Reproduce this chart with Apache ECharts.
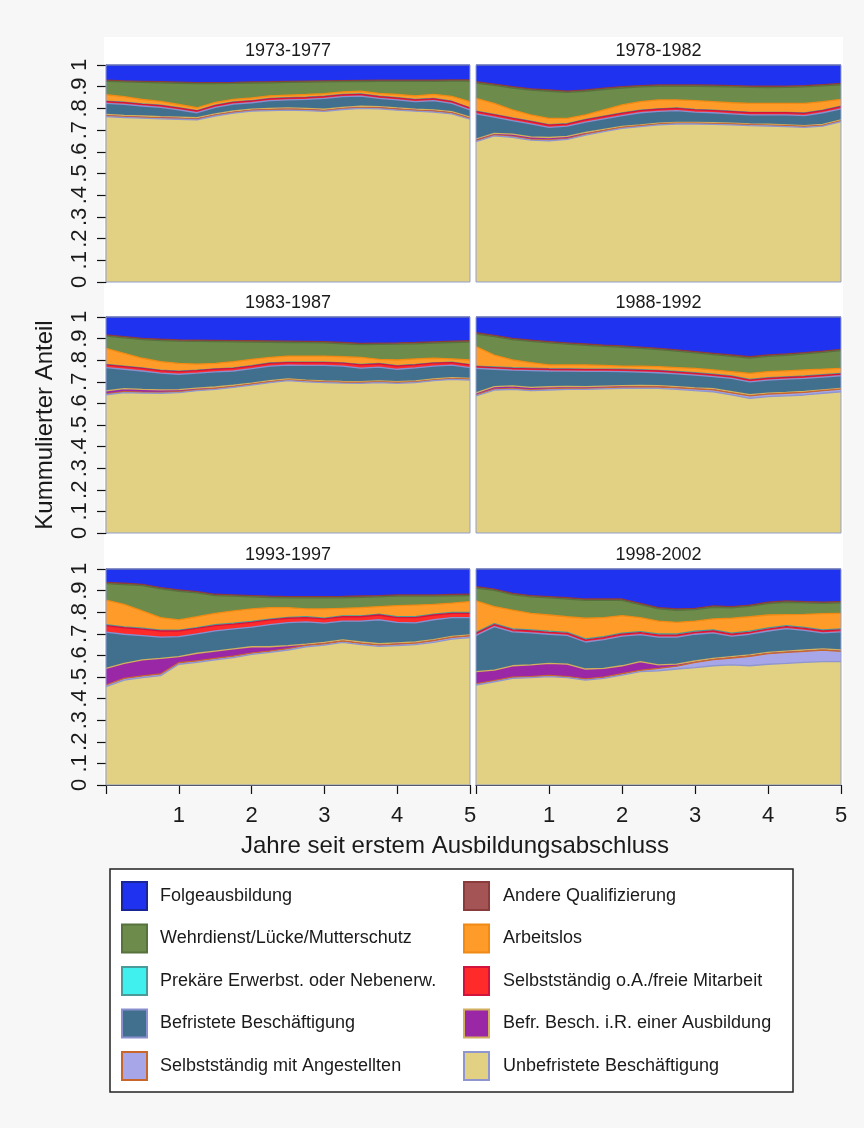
<!DOCTYPE html>
<html>
<head>
<meta charset="utf-8">
<script src="https://cdn.jsdelivr.net/npm/echarts@6/dist/echarts.min.js"></script>
<style>
  html, body { margin: 0; padding: 0; background: #f7f7f7; }
  #chart { width: 864px; height: 1128px; }
</style>
</head>
<body>
<div id="chart"></div>
<script>
// Years since first completed training (quarterly)
const years = [0, 0.25, 0.5, 0.75, 1, 1.25, 1.5, 1.75, 2, 2.25, 2.5, 2.75, 3, 3.25, 3.5, 3.75, 4, 4.25, 4.5, 4.75, 5];
const xTicks = [0, 1, 2, 3, 4, 5];
const cohorts = ['1973-1977', '1978-1982', '1983-1987', '1988-1992', '1993-1997', '1998-2002'];

// States, from the top of the stack down
const states = [
  'Folgeausbildung', 'Andere Qualifizierung',
  'Wehrdienst/Lücke/Mutterschutz', 'Arbeitslos',
  'Prekäre Erwerbst. oder Nebenerw.', 'Selbstständig o.A./freie Mitarbeit',
  'Befristete Beschäftigung', 'Befr. Besch. i.R. einer Ausbildung',
  'Selbstständig mit Angestellten', 'Unbefristete Beschäftigung'
];
const fillColors = ['#1f32f0', '#a45454', '#6d8b4b', '#ff9b28', '#40f0ee', '#ff2b2b', '#40708e', '#9a28a6', '#a6a6e8', '#e2d182'];
const lineColors = ['#1b2696', '#8a3c3c', '#57723c', '#f08a14', '#4a9a9a', '#d2143c', '#8a8fd0', '#d2b05e', '#c8662c', '#8f95cf'];

// Cumulative share: all states taken together
const total = [1, 1, 1, 1, 1, 1, 1, 1, 1, 1, 1, 1, 1, 1, 1, 1, 1, 1, 1, 1, 1];

// Cumulative shares (from the bottom of the stack up to and including each state), 1973-1977
const andere7377     = [.930,.927,.925,.923,.921,.919,.919,.920,.922,.923,.925,.926,.927,.928,.929,.930,.930,.930,.930,.931,.931];
const wehrdienst7377 = [.925,.922,.920,.918,.916,.914,.914,.915,.917,.918,.920,.921,.922,.923,.924,.925,.925,.925,.925,.926,.926];
const arbeitslos7377 = [.863,.854,.841,.832,.818,.803,.828,.842,.848,.858,.861,.864,.868,.876,.879,.869,.864,.858,.865,.855,.831];
const prekaer7377    = [.833,.829,.821,.815,.803,.790,.815,.830,.836,.846,.849,.852,.856,.864,.867,.856,.849,.841,.846,.833,.803];
const selbstOA7377   = [.831,.827,.819,.813,.801,.788,.813,.828,.834,.844,.847,.850,.854,.862,.865,.854,.847,.839,.844,.831,.801];
const befrist7377    = [.823,.819,.811,.805,.793,.780,.805,.820,.826,.836,.839,.842,.846,.854,.857,.846,.839,.831,.836,.823,.793];
const befrAusb7377   = [.772,.768,.765,.762,.760,.757,.775,.788,.797,.800,.802,.800,.796,.805,.810,.808,.802,.797,.793,.785,.760];
const selbstAng7377  = [.766,.762,.759,.756,.754,.751,.769,.782,.791,.794,.796,.794,.790,.799,.804,.802,.796,.791,.787,.779,.754];
const unbef7377      = [.762,.758,.755,.752,.750,.747,.765,.778,.787,.790,.792,.790,.786,.795,.800,.798,.792,.787,.783,.775,.750];

// 1978-1982
const andere7882     = [.923,.912,.900,.890,.885,.880,.885,.893,.900,.905,.908,.908,.908,.907,.905,.903,.902,.903,.905,.910,.915];
const wehrdienst7882 = [.917,.906,.894,.884,.879,.874,.879,.887,.894,.899,.902,.902,.902,.901,.899,.897,.896,.897,.899,.904,.909];
const arbeitslos7882 = [.846,.823,.793,.770,.754,.754,.770,.793,.816,.831,.839,.839,.836,.831,.826,.823,.823,.823,.823,.831,.842];
const prekaer7882    = [.787,.772,.756,.741,.725,.730,.749,.764,.779,.792,.798,.802,.795,.792,.787,.782,.782,.782,.779,.792,.810];
const selbstOA7882   = [.785,.770,.754,.739,.723,.728,.747,.762,.777,.790,.796,.800,.793,.790,.785,.780,.780,.780,.777,.790,.808];
const befrist7882    = [.775,.760,.744,.729,.713,.718,.737,.752,.767,.780,.786,.790,.783,.780,.775,.770,.770,.770,.767,.780,.798];
const befrAusb7882   = [.659,.685,.681,.669,.666,.671,.689,.703,.717,.724,.732,.736,.736,.734,.732,.729,.727,.724,.721,.726,.747];
const selbstAng7882  = [.651,.677,.671,.658,.655,.661,.681,.697,.712,.720,.728,.732,.732,.730,.728,.725,.723,.720,.717,.722,.743];
const unbef7882      = [.647,.673,.667,.654,.651,.657,.677,.693,.708,.716,.724,.728,.728,.726,.724,.721,.719,.716,.713,.718,.739];

// 1983-1987
const andere8387     = [.917,.909,.901,.897,.894,.893,.892,.891,.890,.889,.888,.887,.886,.882,.878,.879,.880,.882,.885,.888,.890];
const wehrdienst8387 = [.911,.903,.895,.891,.888,.887,.886,.885,.884,.883,.882,.881,.880,.876,.872,.873,.874,.876,.879,.882,.884];
const arbeitslos8387 = [.855,.832,.809,.793,.785,.782,.785,.793,.804,.813,.819,.819,.819,.816,.813,.804,.801,.806,.809,.806,.801];
const prekaer8387    = [.780,.772,.764,.754,.749,.754,.760,.764,.775,.787,.791,.791,.791,.788,.780,.785,.775,.780,.788,.791,.780];
const selbstOA8387   = [.778,.770,.762,.752,.747,.752,.758,.762,.773,.785,.789,.789,.789,.786,.778,.783,.773,.778,.786,.789,.778];
const befrist8387    = [.766,.758,.750,.740,.735,.740,.746,.750,.761,.773,.777,.776,.776,.773,.763,.768,.758,.764,.773,.777,.766];
const befrAusb8387   = [.658,.668,.665,.663,.664,.671,.676,.684,.694,.705,.713,.708,.704,.702,.701,.704,.701,.704,.713,.719,.716];
const selbstAng8387  = [.644,.654,.652,.651,.654,.663,.669,.678,.689,.700,.709,.704,.700,.698,.697,.700,.697,.700,.709,.715,.712];
const unbef8387      = [.640,.650,.648,.647,.650,.659,.665,.674,.685,.696,.705,.700,.696,.694,.693,.696,.693,.696,.705,.711,.708];

// 1988-1992
const andere8892     = [.927,.915,.901,.893,.886,.880,.875,.870,.866,.861,.855,.848,.840,.832,.824,.816,.824,.829,.835,.842,.850];
const wehrdienst8892 = [.921,.909,.895,.887,.880,.874,.869,.864,.860,.855,.849,.842,.834,.826,.818,.810,.818,.823,.829,.836,.844];
const arbeitslos8892 = [.863,.824,.801,.789,.778,.778,.778,.776,.773,.772,.770,.766,.762,.755,.747,.739,.747,.751,.755,.758,.762];
const prekaer8892    = [.773,.769,.765,.763,.761,.760,.759,.759,.758,.756,.753,.748,.742,.735,.727,.711,.719,.723,.727,.733,.739];
const selbstOA8892   = [.770,.766,.762,.760,.758,.757,.756,.756,.755,.753,.750,.745,.739,.732,.724,.708,.716,.720,.724,.730,.736];
const befrist8892    = [.762,.758,.754,.752,.750,.749,.748,.748,.747,.745,.742,.737,.731,.724,.716,.700,.708,.712,.716,.722,.728];
const befrAusb8892   = [.649,.678,.681,.674,.677,.679,.678,.680,.682,.683,.682,.678,.672,.668,.654,.640,.648,.651,.655,.663,.670];
const selbstAng8892  = [.639,.666,.669,.663,.667,.670,.670,.672,.675,.676,.676,.672,.667,.663,.649,.635,.643,.647,.651,.659,.666];
const unbef8892      = [.635,.662,.665,.659,.662,.665,.665,.667,.670,.670,.670,.665,.659,.654,.639,.623,.631,.635,.639,.647,.654];

// 1993-1997
const andere9397     = [.938,.934,.929,.914,.903,.895,.883,.880,.877,.874,.872,.872,.872,.873,.875,.877,.880,.880,.880,.882,.883];
const wehrdienst9397 = [.932,.928,.923,.908,.897,.889,.877,.874,.871,.868,.866,.866,.866,.867,.869,.871,.874,.874,.874,.876,.877];
const arbeitslos9397 = [.856,.836,.806,.775,.764,.779,.795,.806,.815,.821,.821,.815,.815,.818,.821,.826,.830,.833,.836,.842,.849];
const prekaer9397    = [.742,.732,.726,.717,.717,.729,.742,.749,.757,.768,.776,.779,.773,.783,.783,.791,.779,.779,.791,.799,.799];
const selbstOA9397   = [.738,.728,.722,.713,.713,.725,.738,.745,.753,.764,.772,.775,.769,.779,.779,.787,.775,.775,.787,.795,.795];
const befrist9397    = [.708,.698,.692,.685,.687,.700,.714,.723,.731,.742,.752,.755,.749,.759,.759,.765,.753,.751,.765,.775,.775];
const befrAusb9397   = [.540,.563,.579,.586,.594,.610,.620,.630,.640,.640,.645,.652,.660,.672,.662,.654,.658,.662,.673,.688,.695];
const selbstAng9397  = [.463,.494,.505,.514,.566,.575,.586,.597,.611,.620,.631,.646,.654,.666,.656,.648,.652,.657,.668,.683,.690];
const unbef9397      = [.455,.486,.497,.506,.559,.568,.579,.590,.605,.614,.625,.640,.648,.660,.650,.642,.645,.650,.660,.675,.682];

// 1998-2002
const andere9802     = [.918,.907,.887,.877,.872,.867,.861,.861,.861,.841,.821,.815,.818,.829,.826,.833,.846,.852,.849,.847,.849];
const wehrdienst9802 = [.912,.901,.881,.871,.866,.861,.855,.855,.855,.835,.815,.809,.812,.823,.820,.827,.840,.846,.843,.841,.843];
const arbeitslos9802 = [.852,.826,.810,.795,.787,.779,.772,.775,.784,.775,.759,.753,.759,.769,.772,.779,.787,.789,.790,.793,.795];
const prekaer9802    = [.707,.747,.723,.718,.712,.707,.676,.687,.703,.710,.699,.699,.712,.718,.703,.712,.727,.738,.730,.718,.723];
const selbstOA9802   = [.702,.742,.718,.713,.707,.702,.671,.682,.698,.705,.694,.694,.707,.713,.698,.707,.722,.733,.725,.713,.718];
const befrist9802    = [.693,.733,.709,.704,.698,.693,.662,.673,.689,.696,.685,.685,.698,.704,.689,.698,.713,.724,.716,.704,.709];
const befrAusb9802   = [.525,.532,.552,.556,.563,.560,.537,.540,.552,.571,.556,.560,.574,.586,.594,.602,.614,.620,.625,.630,.625];
const selbstAng9802  = [.468,.483,.499,.502,.507,.502,.491,.499,.515,.531,.540,.550,.568,.580,.588,.596,.608,.614,.619,.624,.619];
const unbef9802      = [.463,.478,.494,.497,.502,.497,.486,.494,.509,.525,.528,.537,.543,.552,.556,.552,.559,.563,.568,.571,.571];

// Per cohort, the cumulative curves in state order (top of stack first)
const cumulative = [
  [total, andere7377, wehrdienst7377, arbeitslos7377, prekaer7377, selbstOA7377, befrist7377, befrAusb7377, selbstAng7377, unbef7377],
  [total, andere7882, wehrdienst7882, arbeitslos7882, prekaer7882, selbstOA7882, befrist7882, befrAusb7882, selbstAng7882, unbef7882],
  [total, andere8387, wehrdienst8387, arbeitslos8387, prekaer8387, selbstOA8387, befrist8387, befrAusb8387, selbstAng8387, unbef8387],
  [total, andere8892, wehrdienst8892, arbeitslos8892, prekaer8892, selbstOA8892, befrist8892, befrAusb8892, selbstAng8892, unbef8892],
  [total, andere9397, wehrdienst9397, arbeitslos9397, prekaer9397, selbstOA9397, befrist9397, befrAusb9397, selbstAng9397, unbef9397],
  [total, andere9802, wehrdienst9802, arbeitslos9802, prekaer9802, selbstOA9802, befrist9802, befrAusb9802, selbstAng9802, unbef9802]
];

const FONT = 'Liberation Sans, Arial, sans-serif';
const cols = [{ left: 106, width: 364 }, { left: 476, width: 365 }];
const rows = [{ top: 65, height: 217 }, { top: 317, height: 216 }, { top: 569, height: 216 }];

const grids = [], xAxes = [], yAxes = [], series = [], graphics = [];

// white backdrop behind the panel block
graphics.push({ type: 'rect', z: -10, shape: { x: 104, y: 37, width: 739, height: 750 }, style: { fill: '#ffffff' } });

cohorts.forEach((name, i) => {
  const r = Math.floor(i / 2), c = i % 2;
  const col = cols[c], row = rows[r];
  grids.push({
    left: col.left, top: row.top, width: col.width, height: row.height,
    show: true, z: 5, backgroundColor: 'transparent', borderColor: '#93a0cf', borderWidth: 1
  });
  const bottomRow = r === 2, leftCol = c === 0;
  xAxes.push({
    type: 'value', gridIndex: i, min: xTicks[0], max: xTicks[xTicks.length - 1], interval: 1,
    axisLine: { show: bottomRow, onZero: false, lineStyle: { color: '#111', width: 1.2 } },
    axisTick: { show: bottomRow, length: 9, lineStyle: { color: '#111', width: 1.2 } },
    axisLabel: { show: bottomRow, margin: 20, fontSize: 22, fontFamily: FONT, color: '#1a1a1a',
      formatter: v => (v === 0 ? '' : String(v)) },
    splitLine: { show: false }
  });
  yAxes.push({
    type: 'value', gridIndex: i, min: 0, max: 1, interval: 0.1,
    axisLine: { show: leftCol, lineStyle: { color: '#111', width: 1.2 } },
    axisTick: { show: leftCol, length: 9, lineStyle: { color: '#111', width: 1.2 } },
    axisLabel: { show: leftCol, rotate: 90, margin: 15, fontSize: 22, fontFamily: FONT, color: '#1a1a1a',
      formatter: v => (v === 0 ? '0' : v === 1 ? '1' : v.toFixed(1).replace(/^0/, '')) },
    splitLine: { show: false }
  });
  // panel title
  graphics.push({
    type: 'text', z: 10,
    style: { x: col.left + col.width / 2, y: row.top - 14, text: name, fontSize: 18, fontFamily: FONT,
      fill: '#1a1a1a', textAlign: 'center', textVerticalAlign: 'middle' }
  });
  // cumulative areas, drawn from the full stack down to the lowest state
  cumulative[i].forEach((curve, s) => {
    series.push({
      type: 'line', name: states[s], xAxisIndex: i, yAxisIndex: i,
      data: years.map((t, k) => [t, curve[k]]),
      showSymbol: false, symbol: 'none', clip: true, animation: false,
      lineStyle: { color: lineColors[s], width: 1.3 },
      areaStyle: { color: fillColors[s], opacity: 1, origin: 'start' },
      itemStyle: { color: fillColors[s] },
      z: 2 + s * 0.01
    });
  });
});

// axis titles
graphics.push({
  type: 'text', z: 10,
  style: { x: 455, y: 846, text: 'Jahre seit erstem Ausbildungsabschluss', fontSize: 24, fontFamily: FONT,
    fill: '#1a1a1a', textAlign: 'center', textVerticalAlign: 'middle' }
});
graphics.push({
  type: 'text', z: 10, x: 45, y: 425, rotation: Math.PI / 2,
  style: { x: 0, y: 0, text: 'Kummulierter Anteil', fontSize: 24, fontFamily: FONT,
    fill: '#1a1a1a', textAlign: 'center', textVerticalAlign: 'middle' }
});

// legend: two columns, rows follow the stacking order
graphics.push({ type: 'rect', z: 10, shape: { x: 110, y: 869, width: 683, height: 223 },
  style: { fill: '#ffffff', stroke: '#222', lineWidth: 1.5 } });
const legendCols = [{ swatch: 122, text: 160 }, { swatch: 464, text: 503 }];
states.forEach((label, s) => {
  const lr = Math.floor(s / 2), lc = s % 2;
  const cy = 896 + lr * 42.5;
  graphics.push({ type: 'rect', z: 11,
    shape: { x: legendCols[lc].swatch, y: cy - 14, width: 25, height: 28 },
    style: { fill: fillColors[s], stroke: lineColors[s], lineWidth: 2 } });
  graphics.push({ type: 'text', z: 11,
    style: { x: legendCols[lc].text, y: cy, text: label, fontSize: 18, fontFamily: FONT,
      fill: '#1a1a1a', textAlign: 'left', textVerticalAlign: 'middle' } });
});

const chart = echarts.init(document.getElementById('chart'), null, { renderer: 'canvas' });
chart.setOption({
  backgroundColor: '#f7f7f7',
  animation: false,
  grid: grids,
  xAxis: xAxes,
  yAxis: yAxes,
  series: series,
  graphic: graphics
});
</script>
</body>
</html>
